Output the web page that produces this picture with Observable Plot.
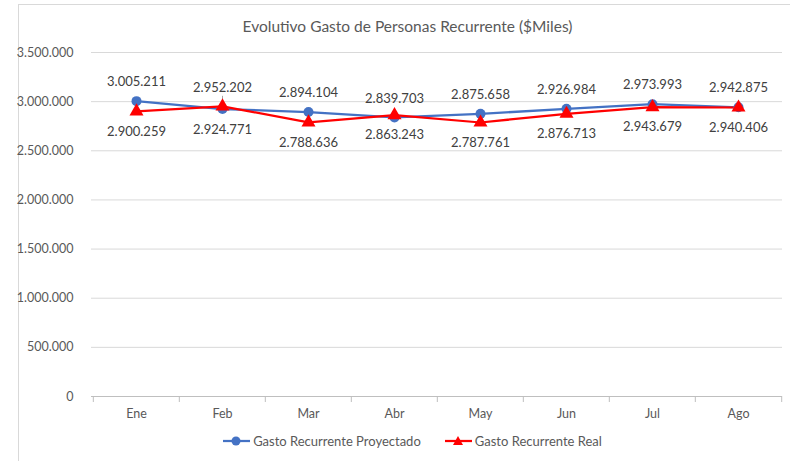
<!DOCTYPE html>
<html><head><meta charset="utf-8">
<script src="https://cdn.jsdelivr.net/npm/d3@7"></script>
<script src="https://cdn.jsdelivr.net/npm/@observablehq/plot@0.6"></script>
<style>
body{margin:0;background:#fff;font-family:Lato,"Liberation Sans",sans-serif;}
#frame{position:absolute;left:18px;top:4px;width:790px;height:470px;border:1px solid #d9d9d9;box-sizing:border-box;}
#title{position:absolute;left:0;width:815px;top:17px;text-align:center;font-size:15.5px;color:#595959;}
#chart{position:absolute;left:0;top:0;}
#legend{position:absolute;left:0;width:825px;top:433px;text-align:center;font-size:13px;color:#595959;}
#legend span.item{display:inline-flex;align-items:center;margin:0 12px;}
</style></head>
<body>
<div id="frame"></div>
<div id="title">Evolutivo Gasto de Personas Recurrente ($Miles)</div>
<div id="chart"></div>
<div id="legend"></div>
<script>
const months = ["Ene","Feb","Mar","Abr","May","Jun","Jul","Ago"];
const proyectado = [3005211, 2924771, 2894104, 2839703, 2875658, 2926984, 2973993, 2942875];
const real = [2900259, 2952202, 2788636, 2863243, 2787761, 2876713, 2943679, 2940406];
const yTicks = [0, 500000, 1000000, 1500000, 2000000, 2500000, 3000000, 3500000];
const seriesNames = ["Gasto Recurrente Proyectado", "Gasto Recurrente Real"];
const colors = ["#4472C4", "#FF0000"];

const loc = d3.formatLocale({decimal: ",", thousands: ".", grouping: [3], currency: ["$", ""]});
const fmt = loc.format(",d");

const dP = months.map((m, i) => ({m, v: proyectado[i]}));
const dR = months.map((m, i) => ({m, v: real[i]}));

const W = 790, ML = 91, MR = 8;
const bw = (W - ML - MR) / months.length;
// Excel placed the Feb labels the other way round
const swapped = d => d.m === "Feb";
const normal = d => !swapped(d);
const lbl = {x: "m", y: "v", text: d => fmt(d.v), fill: "#404040", fontSize: 13};

const plot = Plot.plot({
  width: W, height: 426,
  marginLeft: ML, marginRight: MR, marginTop: 52, marginBottom: 30,
  style: {fontFamily: "Lato, 'Liberation Sans', sans-serif", fontSize: "12px", color: "#595959", background: "transparent"},
  x: {type: "band", domain: months, padding: 0, label: null},
  y: {domain: [0, 3500000], label: null},
  marks: [
    Plot.ruleY(yTicks.filter(d => d > 0), {stroke: "#d9d9d9", strokeWidth: 1}),
    Plot.ruleY([0], {stroke: "#bfbfbf", strokeWidth: 1}),
    Plot.axisY({ticks: yTicks, tickFormat: fmt, tickSize: 0, tickPadding: 18, fill: "#595959", fontSize: 12.5}),
    Plot.axisX({tickSize: 0, tickPadding: 13, fill: "#595959", fontSize: 12.5}),
    Plot.ruleX(months, {x: d => d, y1: 0, y2: 0, dx: -bw / 2, stroke: "#bfbfbf", insetBottom: -6}),
    Plot.ruleX([months[months.length - 1]], {x: d => d, y1: 0, y2: 0, dx: bw / 2, stroke: "#bfbfbf", insetBottom: -6}),
    Plot.ruleX(dR.filter(swapped), {x: "m", y1: "v", y2: "v", insetTop: -10, insetBottom: 3, stroke: "#a6a6a6"}),
    Plot.line(dP, {x: "m", y: "v", stroke: colors[0], strokeWidth: 2.25}),
    Plot.line(dR, {x: "m", y: "v", stroke: colors[1], strokeWidth: 2.25}),
    Plot.dot(dP, {x: "m", y: "v", fill: colors[0], r: 5, symbol: "circle"}),
    Plot.dot(dR, {x: "m", y: "v", fill: colors[1], r: 5.2, symbol: "triangle"}),
    Plot.text(dP.filter(normal), {...lbl, dy: -19}),
    Plot.text(dP.filter(swapped), {...lbl, dy: 21}),
    Plot.text(dR.filter(normal), {...lbl, dy: 20}),
    Plot.text(dR.filter(swapped), {...lbl, dy: -19})
  ]
});
document.getElementById("chart").appendChild(plot);

const leg = document.getElementById("legend");
seriesNames.forEach((name, i) => {
  const sym = i === 0
    ? `<circle cx="13" cy="6" r="4.5" fill="${colors[i]}"/>`
    : `<path d="M13,1 L18,10 L8,10 Z" fill="${colors[i]}"/>`;
  leg.insertAdjacentHTML("beforeend",
    `<span class="item"><svg width="27" height="12"><line x1="0" y1="6" x2="27" y2="6" stroke="${colors[i]}" stroke-width="2.25"/>${sym}</svg><span style="margin-left:3px">${name}</span></span>`);
});
</script>
</body></html>
